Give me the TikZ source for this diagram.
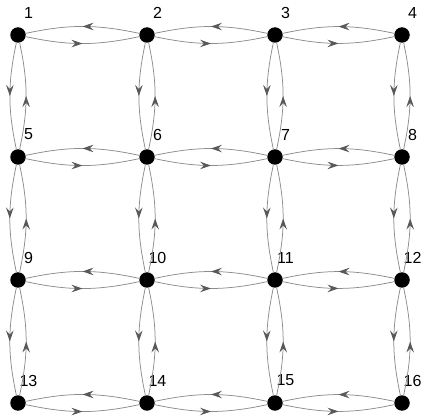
\documentclass[tikz,border=0pt]{standalone}
\usepackage{fontspec}
\setmainfont{Liberation Sans}
\usetikzlibrary{arrows.meta,decorations.markings}
\begin{document}
\begin{tikzpicture}[x=1pt,y=1pt,
  dot/.style={circle,fill=black,minimum size=15.5pt,inner sep=0pt},
  lbl/.style={font=\fontsize{16}{16}\selectfont,inner sep=0pt},
  arc/.style={draw=black!45,line width=0.75pt,bend right=12,
    postaction={decorate},
    decoration={markings,mark=at position 0.5 with {\arrow{Stealth[length=11pt,width=7.5pt,inset=4pt,black!65]}}}}]
\useasboundingbox (0,0) rectangle (421,-417);
\foreach \x [count=\i] in {18,147,275,402}
  \foreach \y [count=\j] in {35,157,280,403} {
    \pgfmathtruncatemacro\k{(\j-1)*4+\i}
    \node[dot] (n\k) at (\x,-\y) {};
    \node[lbl] (l\k) at (\x+10.5,-\y+22.5) {\k};
  }
\foreach \a/\b in {1/2,2/3,3/4,5/6,6/7,7/8,9/10,10/11,11/12,13/14,14/15,15/16,
                   1/5,5/9,9/13,2/6,6/10,10/14,3/7,7/11,11/15,4/8,8/12,12/16} {
  \draw[arc] (n\a) to (n\b);
  \draw[arc] (n\b) to (n\a);
}
\end{tikzpicture}
\end{document}
